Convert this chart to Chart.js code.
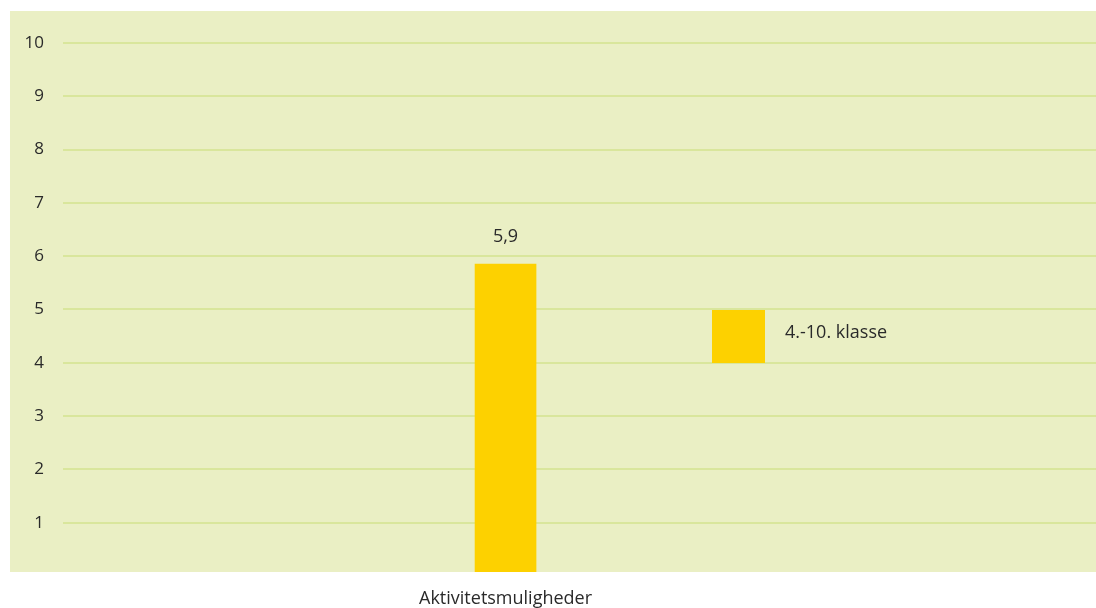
<!DOCTYPE html>
<html>
<head>
<meta charset="utf-8">
<title>Aktivitetsmuligheder</title>
<style>
  html, body { margin: 0; padding: 0; background: #ffffff; }
  canvas { display: block; }
</style>
</head>
<body>
<canvas id="myChart" width="1096" height="608"></canvas>
<script src="https://cdn.jsdelivr.net/npm/chart.js"></script>
<script>
// data
const categories = ['Aktivitetsmuligheder'];
const seriesLabel = '4.-10. klasse';
const seriesValues = [5.85];
const valueLabels = ['5,9'];
const yTicks = [1, 2, 3, 4, 5, 6, 7, 8, 9, 10];

const barColor = '#fdd100';
const panelColor = '#eaefc4';
const gridColor = '#d9e69c';
const textColor = '#2a2a2a';
const fontFamily = '"Open Sans", "Noto Sans", sans-serif';

// light green plot panel behind everything
const panelPlugin = {
    id: 'panel',
    beforeDraw(chart) {
        const { ctx, chartArea } = chart;
        ctx.save();
        ctx.fillStyle = panelColor;
        ctx.fillRect(10, chartArea.top, chartArea.right - 10, chartArea.bottom - chartArea.top);
        ctx.restore();
    }
};

// value above the bar
const valueLabelPlugin = {
    id: 'valueLabels',
    afterDatasetsDraw(chart) {
        const { ctx } = chart;
        const meta = chart.getDatasetMeta(0);
        ctx.save();
        ctx.font = '18px ' + fontFamily;
        ctx.fillStyle = textColor;
        ctx.textAlign = 'center';
        ctx.textBaseline = 'middle';
        meta.data.forEach((bar, i) => {
            ctx.fillText(valueLabels[i], bar.x, bar.y - 27);
        });
        ctx.restore();
    }
};

// legend sits inside the plot, right of the bar
const legendPlugin = {
    id: 'insideLegend',
    afterDraw(chart) {
        const { ctx } = chart;
        const ds = chart.data.datasets[0];
        const box = 53;
        const x = 712;
        const y = 310;
        ctx.save();
        ctx.fillStyle = ds.backgroundColor;
        ctx.fillRect(x, y, box, box);
        ctx.font = '18px ' + fontFamily;
        ctx.fillStyle = textColor;
        ctx.textAlign = 'left';
        ctx.textBaseline = 'middle';
        ctx.fillText(ds.label, x + box + 20, y + 23);
        ctx.restore();
    }
};

const ctx = document.getElementById('myChart');

new Chart(ctx, {
    type: 'bar',
    data: {
        datasets: [{
            label: seriesLabel,
            data: seriesValues.map((v, i) => ({ x: i, y: v })),
            backgroundColor: barColor,
            borderWidth: 0,
            barThickness: 61
        }]
    },
    plugins: [panelPlugin, valueLabelPlugin, legendPlugin],
    options: {
        responsive: false,
        animation: false,
        layout: { padding: { top: 11, left: 0, right: 0, bottom: 0 } },
        plugins: {
            legend: { display: false },
            tooltip: { enabled: false }
        },
        scales: {
            x: {
                type: 'linear',
                offset: false,
                min: -0.4284,
                max: 0.5716,
                afterBuildTicks: axis => { axis.ticks = categories.map((c, i) => ({ value: i })); },
                afterFit: axis => {
                    axis.height = 36;
                    axis.paddingLeft = 0;
                    axis.paddingRight = 0;
                },
                grid: { display: false, drawTicks: false },
                border: { display: false },
                ticks: {
                    padding: 16,
                    color: textColor,
                    font: { family: fontFamily, size: 18 },
                    callback: value => categories[value]
                }
            },
            y: {
                min: 0.075,
                max: 10.6,
                afterBuildTicks: axis => { axis.ticks = yTicks.map(v => ({ value: v })); },
                afterFit: axis => {
                    axis.width = 63;
                    axis.paddingTop = 0;
                    axis.paddingBottom = 0;
                },
                grid: { color: gridColor, lineWidth: 2, drawTicks: false },
                border: { display: false },
                ticks: {
                    padding: 19,
                    color: textColor,
                    font: { family: fontFamily, size: 17 }
                }
            }
        }
    }
});
</script>
</body>
</html>
